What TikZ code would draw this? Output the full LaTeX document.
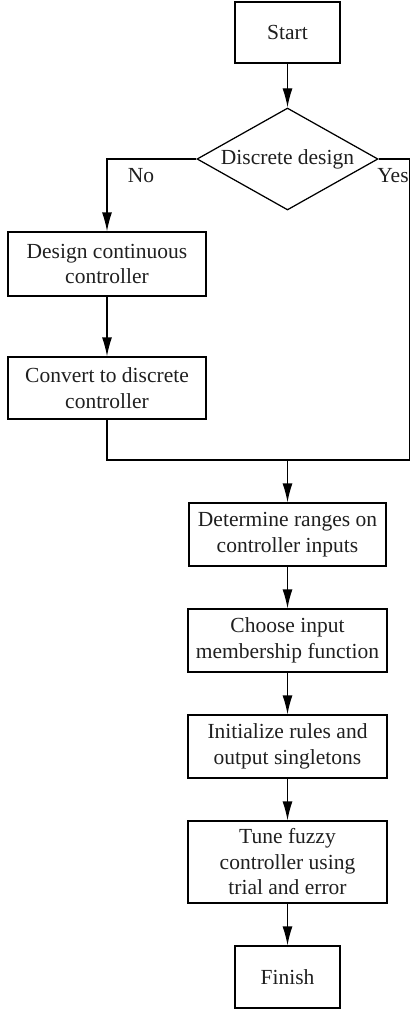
\documentclass[tikz,border=0pt]{standalone}
\usepackage{fontspec}
\setmainfont{Liberation Serif}
\usetikzlibrary{shapes.geometric,arrows.meta}
\begin{document}
\begin{tikzpicture}[x=1pt,y=-1pt,
  every node/.style={font=\fontsize{21.5}{25.5}\selectfont, text=black!88},
  box/.style={draw, line width=1.25pt, align=center, inner sep=0pt, minimum width=#1},
  box/.default=198pt,
  flow/.style={line width=1.25pt, -{Latex[length=19pt,width=10pt]}},
  line/.style={line width=1.25pt}]
\useasboundingbox (0,0) rectangle (411,1011);
\node[box=105pt, minimum height=61pt] (start) at (287.5,32.5) {Start};
\node[draw, line width=1.25pt, shape=diamond, aspect=1.77, minimum width=181pt, minimum height=102pt, inner sep=0pt] (dec) at (287.5,159) {Discrete design};
\node[box, minimum height=64pt] (dcc) at (107,264) {Design continuous\\controller};
\node[box, minimum height=62pt] (conv) at (107,388) {Convert to discrete\\controller};
\node[box=197pt, minimum height=63pt] (det) at (287.5,534.5) {Determine ranges on\\controller inputs};
\node[box=199pt, minimum height=63pt] (cho) at (287.5,640.5) {Choose input\\membership function};
\node[box=199pt, minimum height=63pt] (ini) at (287.5,746.5) {Initialize rules and\\output singletons};
\node[box=199pt, minimum height=82pt] (tun) at (287.5,862) {Tune fuzzy\\controller using\\trial and error};
\node[box=105pt, minimum height=62pt] (fin) at (287.5,977) {Finish};
\node (no) at (141,176) {No};
\node (yes) at (393,176) {Yes};
\coordinate (rtop) at (409.4,159);
\coordinate (rbot) at (409.4,460);
\coordinate (lbot) at (107,460);
\coordinate (mid) at (287.5,460);
\draw[flow] (start) -- (dec);
\draw[flow] (dec.west) -| (dcc.north);
\draw[flow] (dcc) -- (conv);
\draw[line] (dec.east) -- (rtop) -- (rbot) -- (lbot) -- (conv.south);
\draw[flow] (mid) -- (det.north);
\draw[flow] (det) -- (cho);
\draw[flow] (cho) -- (ini);
\draw[flow] (ini) -- (tun);
\draw[flow] (tun) -- (fin);
\end{tikzpicture}
\end{document}
